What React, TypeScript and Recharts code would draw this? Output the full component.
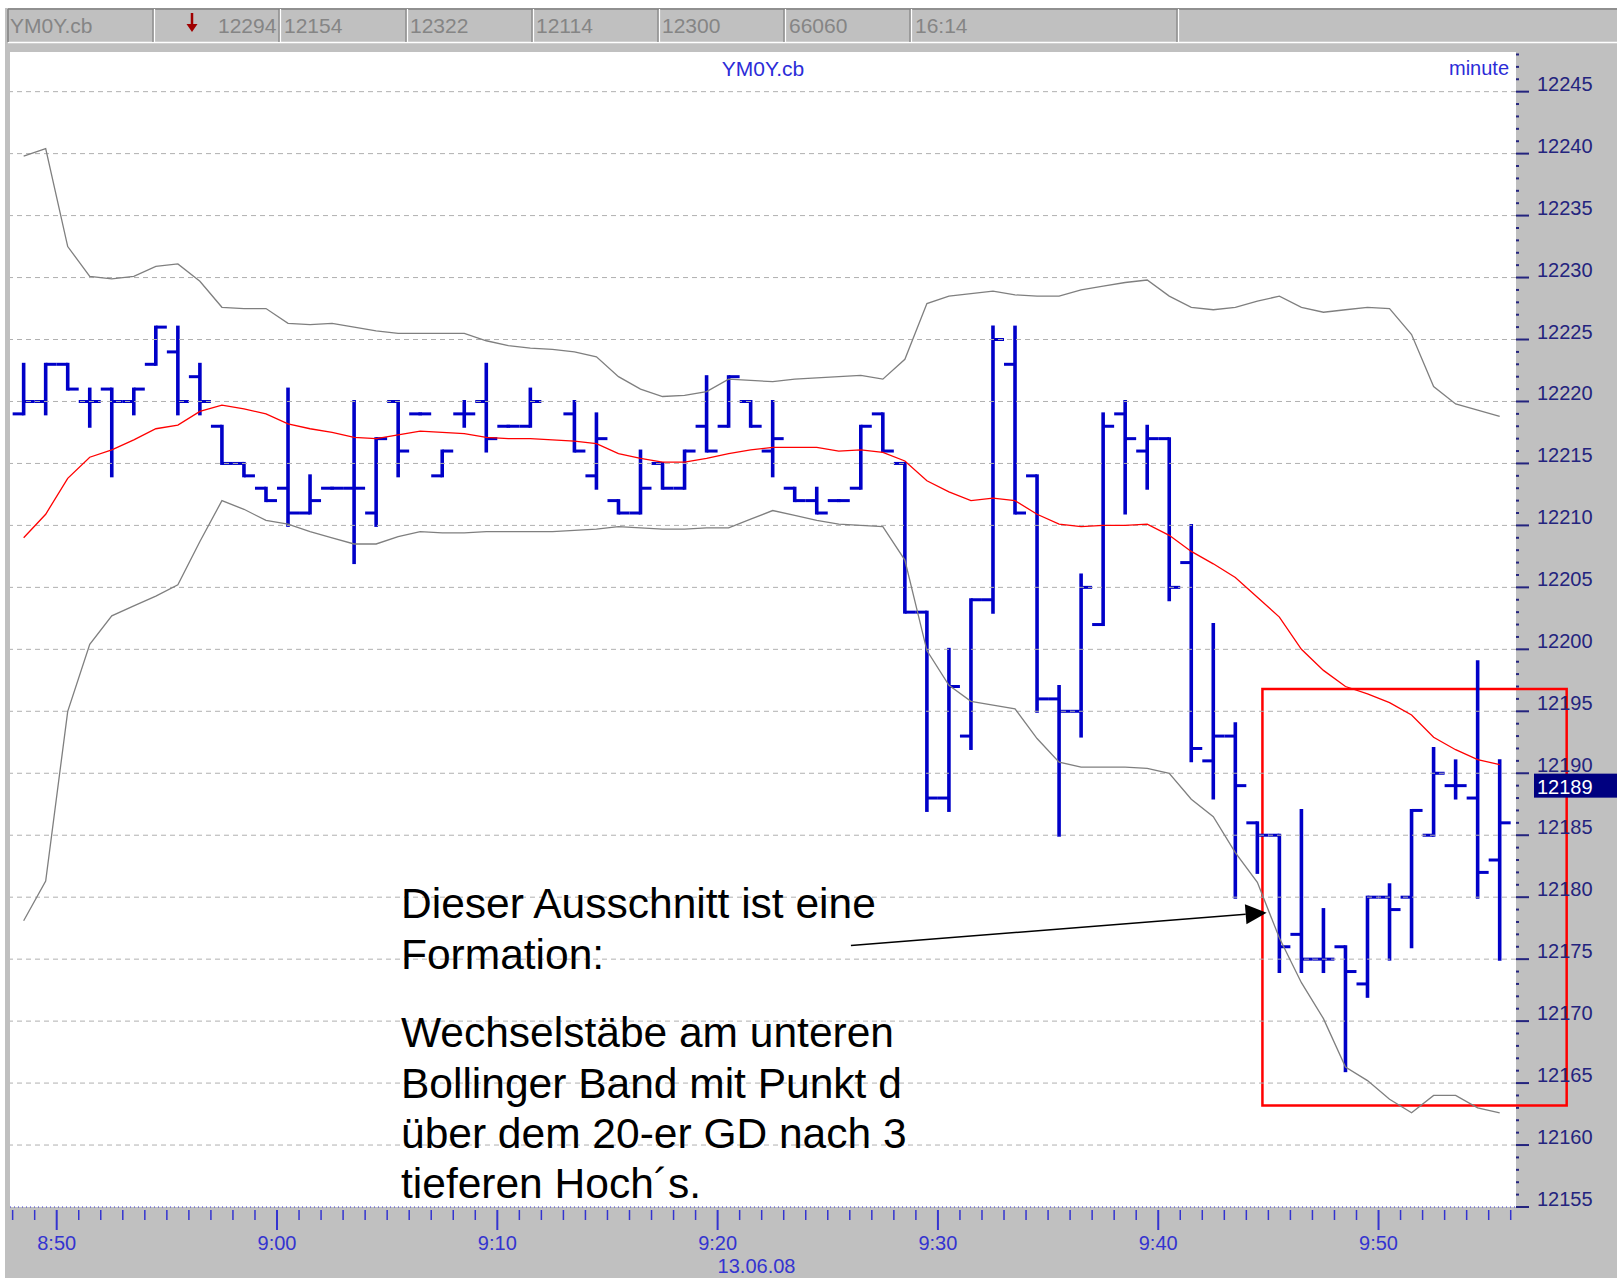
import React from 'react';
import {
  ComposedChart,
  Bar,
  Line,
  XAxis,
  YAxis,
  ReferenceLine,
  ReferenceArea,
} from 'recharts';

// YM0Y.cb, 1-minute bars 13.06.08, from 8:48 (index 0) to 9:55 (index 67); index 24 has no bar
const opens = [
  12219, 12220, 12223, 12220, 12221, 12220, 12223, 12224, 12222, 12218,
  12215, 12213, 12213, 12211, 12213, 12213, 12211, 12220, 12219, 12214,
  12219, 12220, 12218, 12218, null, 12219, 12214, 12212, 12211, 12215,
  12213, 12218, 12218, 12220, 12216, 12213, 12212, 12212, 12213, 12219,
  12215, 12203, 12188, 12193, 12204, 12223, 12214, 12196, 12195, 12202,
  12219, 12216, 12217, 12207, 12191, 12193, 12186, 12185, 12177, 12175,
  12176, 12173, 12180, 12180, 12185, 12189, 12188, 12183,
];
const highs = [
  12223, 12223, 12223, 12221, 12221, 12221, 12226, 12226, 12223, 12218,
  12215, 12213, 12221, 12214, 12213, 12220, 12217, 12220, 12219, 12216,
  12220, 12223, 12218, 12221, null, 12220, 12219, 12212, 12216, 12215,
  12216, 12222, 12222, 12220, 12220, 12213, 12213, 12212, 12218, 12219,
  12215, 12203, 12200, 12204, 12226, 12226, 12214, 12197, 12206, 12219,
  12220, 12218, 12217, 12210, 12202, 12194, 12186, 12185, 12187, 12179,
  12176, 12180, 12181, 12187, 12192, 12191, 12199, 12191,
];
const lows = [
  12219, 12219, 12221, 12218, 12214, 12219, 12223, 12219, 12219, 12215,
  12214, 12212, 12210, 12211, 12213, 12207, 12210, 12214, 12219, 12214,
  12218, 12216, 12218, 12218, null, 12216, 12213, 12211, 12211, 12213,
  12213, 12216, 12218, 12218, 12214, 12212, 12211, 12212, 12213, 12216,
  12203, 12187, 12187, 12192, 12203, 12211, 12195, 12185, 12193, 12202,
  12211, 12213, 12204, 12191, 12188, 12180, 12182, 12174, 12174, 12174,
  12166, 12172, 12175, 12176, 12185, 12188, 12180, 12175,
];
const closes = [
  12220, 12223, 12221, 12220, 12220, 12221, 12226, 12220, 12220, 12215,
  12214, 12212, 12211, 12212, 12213, 12213, 12217, 12216, 12219, 12216,
  12219, 12217, 12218, 12220, null, 12216, 12217, 12211, 12213, 12213,
  12216, 12216, 12222, 12218, 12217, 12212, 12211, 12212, 12218, 12216,
  12203, 12188, 12197, 12204, 12225, 12211, 12196, 12195, 12205, 12218,
  12217, 12217, 12205, 12192, 12193, 12189, 12185, 12176, 12175, 12175,
  12174, 12180, 12179, 12187, 12190, 12189, 12182, 12186,
];
// 20-er GD (red)
const ma20 = [
  12209.0, 12210.9, 12213.8, 12215.5, 12216.1, 12216.9, 12217.8, 12218.1, 12219.2, 12219.7,
  12219.4, 12219.0, 12218.2, 12217.8, 12217.5, 12217.1, 12217.0, 12217.3, 12217.6, 12217.5,
  12217.4, 12217.1, 12217.0, 12217.0, 12216.9, 12216.8, 12216.6, 12215.8, 12215.4, 12215.1,
  12215.1, 12215.4, 12215.8, 12216.1, 12216.3, 12216.3, 12216.3, 12216.0, 12216.1, 12215.9,
  12215.2, 12213.6, 12212.7, 12212.0, 12212.2, 12212.0, 12210.9, 12210.1, 12209.9, 12210.0,
  12210.0, 12210.1, 12209.2, 12207.9, 12206.9, 12205.8, 12204.2, 12202.6, 12200.0, 12198.3,
  12197.0, 12196.4, 12195.7, 12194.7, 12192.9, 12191.9, 12191.1, 12190.7,
];
// Bollinger bands (grey)
const bbUpper = [
  12239.8, 12240.4, 12232.5, 12230.1, 12229.9, 12230.1, 12230.9, 12231.1, 12229.7, 12227.6,
  12227.5, 12227.5, 12226.3, 12226.2, 12226.3, 12226.0, 12225.7, 12225.5, 12225.5, 12225.5,
  12225.5, 12224.9, 12224.5, 12224.3, 12224.2, 12224.0, 12223.6, 12222.0, 12221.0, 12220.4,
  12220.5, 12220.8, 12221.8, 12221.7, 12221.6, 12221.8, 12221.9, 12222.0, 12222.1, 12221.8,
  12223.4, 12227.9, 12228.5, 12228.7, 12228.9, 12228.6, 12228.5, 12228.5, 12229.0, 12229.3,
  12229.6, 12229.8, 12228.5, 12227.6, 12227.4, 12227.6, 12228.1, 12228.5, 12227.6, 12227.2,
  12227.4, 12227.6, 12227.5, 12225.4, 12221.2, 12219.8, 12219.3, 12218.8,
];
const bbLower = [
  12178.1, 12181.3, 12195.0, 12200.4, 12202.7, 12203.5, 12204.3, 12205.2, 12208.7, 12212.0,
  12211.3, 12210.4, 12210.1, 12209.5, 12209.0, 12208.5, 12208.5, 12209.1, 12209.5, 12209.4,
  12209.4, 12209.5, 12209.5, 12209.5, 12209.5, 12209.6, 12209.7, 12209.9, 12209.8, 12209.7,
  12209.7, 12209.8, 12209.8, 12210.5, 12211.2, 12210.8, 12210.4, 12210.1, 12210.0, 12209.9,
  12207.2, 12199.9, 12197.1, 12195.8, 12195.5, 12195.2, 12192.8, 12190.9, 12190.5, 12190.5,
  12190.5, 12190.4, 12190.0, 12187.9, 12186.5, 12183.6, 12181.2, 12176.7, 12173.1, 12170.2,
  12166.3, 12165.2, 12163.7, 12162.6, 12164.0, 12164.0, 12163.0, 12162.6,
];

// x axis: minutes after 8:48
const minuteTicks = Array.from({ length: 69 }, (_, i) => i);
const labelMinutes = [2, 12, 22, 32, 42, 52, 62];
const timeLabels = ['8:50', '9:00', '9:10', '9:20', '9:30', '9:40', '9:50'];
const dateLabel = '13.06.08';
const dateMinute = 32;

// y axis
const priceTicks = Array.from({ length: 94 }, (_, i) => 12155 + i);
const gridLevels = Array.from({ length: 18 }, (_, i) => 12160 + i * 5);
const lastPrice = 12189;

const headerTexts = ['YM0Y.cb', '12294', '12154', '12322', '12114', '12300', '66060', '16:14'];
const noteLines = [
  'Dieser Ausschnitt ist eine',
  'Formation:',
  'Wechselstäbe am unteren',
  'Bollinger Band mit Punkt d',
  'über dem 20-er GD nach 3',
  'tieferen Hoch´s.',
];

// annotation geometry in data units
const boxX = [56.73, 70.54];
const boxY = [12163.2, 12196.8];
const arrowFrom = { x: 38.05, y: 12176.1 };
const arrowTo = { x: 56.92, y: 12178.75 };

const data = opens.map((o, i) => ({
  x: i + 0.5,
  o,
  h: highs[i],
  l: lows[i],
  c: closes[i],
  range: o == null ? null : [lows[i], highs[i]],
  ma: ma20[i],
  upper: bbUpper[i],
  lower: bbLower[i],
}));

const FONT = "'Liberation Sans', Arial, sans-serif";
const NARROW = "'Liberation Sans Narrow', 'Liberation Sans', Arial, sans-serif";
const BAR_BLUE = '#0000c8';
const Y_NAVY = '#24247e';
const X_BLUE = '#3434d0';

const OhlcShape = (props: any) => {
  const { x, y, width, height, payload } = props;
  if (!payload || payload.o == null) return null;
  const cx = x + width / 2;
  const top = Math.min(y, y + height);
  const bot = Math.max(y, y + height);
  const span = payload.h - payload.l;
  const yOf = (v: number) => (span > 0 ? top + ((payload.h - v) / span) * (bot - top) : top);
  return (
    <g>
      <line x1={cx} x2={cx} y1={top - 1.5} y2={bot + 1.5} stroke={BAR_BLUE} strokeWidth={3.6} />
      <line x1={cx - 11} x2={cx} y1={yOf(payload.o)} y2={yOf(payload.o)} stroke={BAR_BLUE} strokeWidth={3} />
      <line x1={cx} x2={cx + 11} y1={yOf(payload.c)} y2={yOf(payload.c)} stroke={BAR_BLUE} strokeWidth={3} />
    </g>
  );
};

const XTick = (props: any) => {
  const { x, y, payload } = props;
  const m = payload.value as number;
  const idx = labelMinutes.indexOf(m);
  const major = idx >= 0;
  return (
    <g>
      <line x1={x} x2={x} y1={y + 3} y2={y + (major ? 23 : 13)} stroke={X_BLUE} strokeWidth={major ? 2 : 1.5} />
      {major && (
        <text x={x} y={y + 43} textAnchor="middle" fontSize={20} fontFamily={FONT} fill={X_BLUE}>
          {timeLabels[idx]}
        </text>
      )}
      {m === dateMinute && (
        <text x={x} y={y + 66} textAnchor="start" fontSize={20} fontFamily={FONT} fill={X_BLUE}>
          {dateLabel}
        </text>
      )}
    </g>
  );
};

const YTick = (props: any) => {
  const { x, y, payload } = props;
  const v = payload.value as number;
  const major = v % 5 === 0;
  return (
    <g>
      <line x1={x} x2={x + (major ? 13 : 3)} y1={y} y2={y} stroke={Y_NAVY} strokeWidth={2} />
      {major && (
        <text x={x + 21} y={y - 1} fontSize={20} fontFamily={FONT} fill={Y_NAVY}>
          {v}
        </text>
      )}
      {v === lastPrice && (
        <g>
          <rect x={x + 18} y={y - 12} width={90} height={24} fill="#000080" />
          <text x={x + 21} y={y + 8} fontSize={20} fontFamily={FONT} fill="#ffffff">
            {v}
          </text>
        </g>
      )}
    </g>
  );
};

const ArrowShape = (props: any) => {
  const { x1, y1, x2, y2 } = props;
  const ang = Math.atan2(y2 - y1, x2 - x1);
  const len = 21;
  const half = 10;
  const bx = x2 - len * Math.cos(ang);
  const by = y2 - len * Math.sin(ang);
  const px = -Math.sin(ang) * half;
  const py = Math.cos(ang) * half;
  return (
    <g>
      <line x1={x1} y1={y1} x2={bx} y2={by} stroke="#000" strokeWidth={1.6} />
      <polygon points={`${x2},${y2} ${bx + px},${by + py} ${bx - px},${by - py}`} fill="#000" />
    </g>
  );
};

const headerX = [10, 218, 284, 410, 536, 662, 789, 915];
const headerSeps = [153, 279, 406, 532, 658, 784, 910, 1177];

export default function App() {
  return (
    <div
      style={{
        position: 'absolute',
        left: 0,
        top: 0,
        width: 1617,
        height: 1278,
        background: '#c0c0c0',
        overflow: 'hidden',
      }}
    >
      <div style={{ position: 'absolute', left: 10, top: 52, width: 1506, height: 1155, background: '#ffffff' }} />
      <div style={{ position: 'absolute', left: 0, top: 0 }}>
        <ComposedChart width={1617} height={1278} data={data} margin={{ top: 52, right: 0, bottom: 0, left: 10 }}>
          {gridLevels.map((g) => (
            <ReferenceLine key={g} y={g} stroke="#b0b0b0" strokeDasharray="5 4" strokeWidth={1} />
          ))}
          <XAxis
            type="number"
            dataKey="x"
            domain={[-0.12, 68.24]}
            ticks={minuteTicks}
            interval={0}
            tickSize={0}
            tickMargin={0}
            tick={(p: any) => <XTick {...p} />}
            height={71}
            axisLine={{ stroke: X_BLUE, strokeDasharray: '1 3' }}
            allowDataOverflow
          />
          <YAxis
            orientation="right"
            type="number"
            domain={[12155, 12248.2]}
            ticks={priceTicks}
            interval={0}
            tickSize={0}
            tickMargin={0}
            tick={(p: any) => <YTick {...p} />}
            width={101}
            axisLine={false}
            allowDataOverflow
          />
          <Bar dataKey="range" barSize={22} shape={(p: any) => <OhlcShape {...p} />} isAnimationActive={false} />
          <Line dataKey="upper" stroke="#7f7f7f" strokeWidth={1.3} dot={false} activeDot={false} isAnimationActive={false} />
          <Line dataKey="lower" stroke="#7f7f7f" strokeWidth={1.3} dot={false} activeDot={false} isAnimationActive={false} />
          <Line dataKey="ma" stroke="#ff0000" strokeWidth={1.3} dot={false} activeDot={false} isAnimationActive={false} />
          <ReferenceArea
            x1={boxX[0]}
            x2={boxX[1]}
            y1={boxY[0]}
            y2={boxY[1]}
            fill="none"
            fillOpacity={0}
            stroke="#ff0000"
            strokeWidth={2.5}
            ifOverflow="visible"
          />
          <ReferenceLine
            segment={[arrowFrom, arrowTo]}
            stroke="#000"
            ifOverflow="visible"
            shape={(p: any) => <ArrowShape {...p} />}
          />
        </ComposedChart>
      </div>
      <svg
        width={1617}
        height={1278}
        style={{ position: 'absolute', left: 0, top: 0, pointerEvents: 'none' }}
      >
        <rect x={0} y={0} width={1617} height={8} fill="#ffffff" />
        <rect x={0} y={0} width={5} height={1278} fill="#ffffff" />
        <line x1={8} x2={1617} y1={9} y2={9} stroke="#808080" strokeWidth={1.5} />
        <line x1={8} x2={1617} y1={42.5} y2={42.5} stroke="#ffffff" strokeWidth={1.5} />
        <line x1={8} x2={8} y1={9} y2={42} stroke="#808080" strokeWidth={1.5} />
        {headerSeps.map((s) => (
          <g key={s}>
            <line x1={s} x2={s} y1={9} y2={42} stroke="#808080" strokeWidth={1.2} />
            <line x1={s + 1.5} x2={s + 1.5} y1={9} y2={42} stroke="#ffffff" strokeWidth={1.2} />
          </g>
        ))}
        {headerTexts.map((t, i) => (
          <text key={t + i} x={headerX[i]} y={33} fontSize={21} fontFamily={NARROW} fill="#858585">
            {t}
          </text>
        ))}
        <line x1={192} x2={192} y1={13} y2={26} stroke="#a00000" strokeWidth={2.5} />
        <polygon points="186.5,24 197.5,24 192,32" fill="#a00000" />
        <text x={763} y={76} textAnchor="middle" fontSize={21} fontFamily={FONT} fill="#2c2cd8">
          YM0Y.cb
        </text>
        <text x={1509} y={75} textAnchor="end" fontSize={20} fontFamily={FONT} fill="#2c2cd8">
          minute
        </text>
        {noteLines.map((t, i) => (
          <text
            key={t}
            x={401}
            y={[918, 969, 1047, 1098, 1148, 1198][i]}
            fontSize={42.5}
            fontFamily={FONT}
            fill="#000000"
          >
            {t}
          </text>
        ))}
      </svg>
    </div>
  );
}
